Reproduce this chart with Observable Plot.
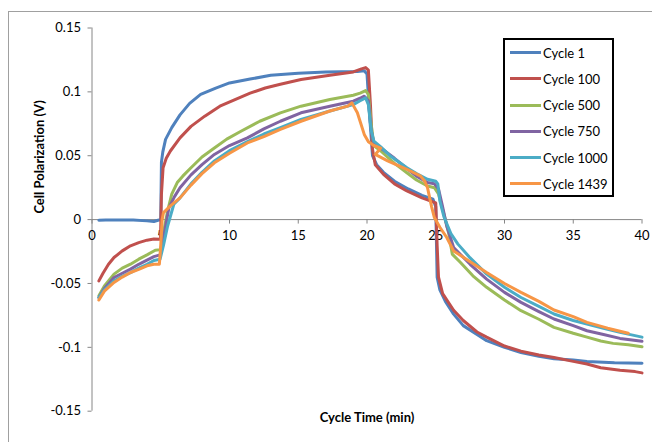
<!DOCTYPE html>
<html>
<head>
<meta charset="utf-8">
<script src="https://cdn.jsdelivr.net/npm/d3@7"></script>
<script src="https://cdn.jsdelivr.net/npm/@observablehq/plot@0.6"></script>
<style>
  html, body { margin: 0; padding: 0; background: #fff; }
  #wrap { position: relative; width: 652px; height: 442px; overflow: hidden; font-family: Lato, "Open Sans", sans-serif; }
  #frame { position: absolute; left: 8px; top: 11px; width: 700px; height: 500px; border-top: 1px solid #a0a0a0; border-left: 1px solid #a0a0a0; }
  #chart { position: absolute; left: 0; top: 0; }
  #legend { position: absolute; left: 503px; top: 38px; width: 107px; height: 155px; border: 2px solid #000; background: #fff; }
  .row { position: absolute; left: 5px; height: 20px; display: flex; align-items: center; font-size: 13px; color: #000; white-space: nowrap; }
  .sw { width: 31px; height: 3px; margin-right: 2px; }
</style>
</head>
<body>
<div id="wrap">
  <div id="frame"></div>
  <div id="chart"></div>
  <div id="legend"></div>
</div>
<script>
// ---- data ----
const seriesNames = ["Cycle 1", "Cycle 100", "Cycle 500", "Cycle 750", "Cycle 1000", "Cycle 1439"];
const seriesColors = ["#4F81BD", "#C0504D", "#9BBB59", "#8064A2", "#4BACC6", "#F79646"];
const xTicks = [0, 5, 10, 15, 20, 25, 30, 35, 40];
const yTicks = [-0.15, -0.1, -0.05, 0, 0.05, 0.1, 0.15];

const cycle1 = [[0.5,-0.0005],[1,-0.0004],[2,-0.0003],[3,-0.0004],[4,-0.001],[4.5,-0.0015],[4.8,-0.0005],[5.0,0],[5.05,0.045],[5.15,0.053],[5.35,0.0628],[5.8,0.072],[6.4,0.082],[7.1,0.091],[7.9,0.098],[9,0.103],[10,0.107],[11.5,0.110],[13,0.113],[15,0.1146],[17,0.1155],[19.3,0.116],[19.8,0.1165],[20.0,0.114],[20.2,0.08],[20.4,0.05],[20.7,0.043],[21.2,0.037],[22,0.030],[23,0.024],[24,0.019],[24.8,0.016],[25.0,0.010],[25.1,-0.045],[25.3,-0.055],[25.7,-0.064],[26.3,-0.074],[27,-0.083],[28,-0.090],[28.7,-0.0948],[30,-0.1],[31.2,-0.104],[32.5,-0.107],[33.6,-0.109],[35,-0.110],[36,-0.111],[38,-0.112],[40,-0.1125]];
const cycle100 = [[0.5,-0.048],[0.8,-0.042],[1.2,-0.035],[1.6,-0.0297],[2.2,-0.0245],[2.8,-0.0205],[3.4,-0.018],[4.0,-0.0161],[4.5,-0.0152],[4.98,-0.0153],[5.05,0.02],[5.17,0.0406],[5.4,0.048],[5.7,0.0537],[6.4,0.064],[7.2,0.073],[8.2,0.081],[9.3,0.0888],[10.4,0.094],[11.5,0.099],[12.6,0.103],[13.7,0.106],[15.2,0.1097],[17.3,0.113],[19,0.1156],[19.6,0.118],[19.9,0.119],[20.1,0.117],[20.25,0.09],[20.4,0.055],[20.6,0.043],[21.2,0.0355],[22,0.028],[22.9,0.0224],[24,0.017],[24.6,0.0146],[25.0,0.013],[25.1,-0.02],[25.2,-0.045],[25.5,-0.058],[26.3,-0.071],[27,-0.079],[28,-0.088],[28.7,-0.092],[30,-0.099],[31.2,-0.103],[32.5,-0.106],[33.6,-0.108],[35,-0.111],[36,-0.113],[37,-0.116],[38.4,-0.118],[39.5,-0.119],[40,-0.120]];
const cycle500 = [[0.5,-0.0596],[0.9,-0.052],[1.6,-0.0427],[2.2,-0.038],[2.8,-0.0349],[3.4,-0.031],[4.0,-0.0276],[4.6,-0.024],[5.0,-0.0235],[5.2,-0.01],[5.5,0.0068],[5.8,0.02],[6.2,0.029],[6.6,0.034],[7.2,0.0406],[8,0.049],[8.9,0.056],[9.8,0.063],[10.8,0.069],[12.2,0.077],[13.7,0.0836],[15.2,0.0888],[17.3,0.094],[19,0.0974],[19.5,0.099],[19.9,0.101],[20.1,0.098],[20.3,0.075],[20.5,0.058],[21,0.0537],[22,0.044],[22.9,0.0367],[23.6,0.031],[24.4,0.0263],[24.9,0.025],[25.2,0.02],[25.6,0.004],[25.95,-0.011],[26.2,-0.027],[26.8,-0.0336],[27.7,-0.044],[28.7,-0.053],[30,-0.063],[31.2,-0.0713],[32.5,-0.078],[33.6,-0.0844],[35,-0.089],[36,-0.092],[37,-0.095],[37.9,-0.0969],[39,-0.098],[40,-0.0995]];
const cycle750 = [[0.5,-0.061],[0.9,-0.054],[1.6,-0.0453],[2.2,-0.042],[2.8,-0.0388],[3.4,-0.035],[4.0,-0.0317],[4.5,-0.029],[4.95,-0.0276],[5.2,-0.015],[5.4,-0.002],[5.6,0.0094],[6.0,0.018],[6.4,0.025],[7.2,0.035],[8,0.043],[8.9,0.051],[10,0.058],[11.3,0.064],[12.5,0.071],[13.7,0.077],[15.2,0.0836],[17.3,0.0888],[19,0.0927],[19.5,0.095],[19.8,0.0966],[20.1,0.093],[20.3,0.07],[20.5,0.06],[21,0.056],[22,0.048],[22.9,0.040],[23.6,0.034],[24.4,0.029],[24.9,0.028],[25.2,0.024],[25.5,0.01],[25.8,-0.005],[26.3,-0.0219],[27.5,-0.035],[28.7,-0.0466],[30,-0.057],[31.2,-0.0648],[32.5,-0.072],[33.6,-0.0778],[35,-0.083],[36,-0.087],[37.2,-0.090],[38.4,-0.093],[40,-0.0953]];
const cycle1000 = [[0.5,-0.061],[0.9,-0.055],[1.6,-0.048],[2.2,-0.0445],[2.8,-0.0415],[3.4,-0.038],[4.0,-0.035],[4.5,-0.032],[4.95,-0.031],[5.2,-0.02],[5.5,-0.005],[5.95,0.012],[6.4,0.017],[7.2,0.028],[8,0.037],[8.9,0.0459],[10,0.054],[11.3,0.061],[12.5,0.067],[13.7,0.0719],[15.2,0.0784],[17.3,0.085],[19,0.090],[19.5,0.093],[19.9,0.0953],[20.1,0.09],[20.3,0.07],[20.5,0.0615],[21,0.057],[21.7,0.0498],[22.9,0.0406],[23.6,0.036],[24.4,0.0316],[25.0,0.030],[25.15,0.028],[25.3,0.0146],[25.6,0.002],[26.1,-0.011],[26.6,-0.019],[27.5,-0.030],[28.7,-0.0427],[30,-0.053],[31.2,-0.061],[32.5,-0.068],[33.6,-0.0739],[35,-0.079],[36,-0.0817],[37.2,-0.085],[38.4,-0.0883],[40,-0.092]];
const cycle1439 = [[0.5,-0.063],[0.9,-0.056],[1.6,-0.0492],[2.2,-0.045],[2.8,-0.0414],[3.4,-0.039],[4.0,-0.0362],[4.5,-0.035],[4.9,-0.0349],[5.0,-0.02],[5.1,0.0],[5.2,0.0055],[5.7,0.0107],[6.4,0.017],[7.2,0.027],[8,0.036],[8.9,0.0445],[10,0.052],[11.3,0.060],[12.5,0.065],[13.7,0.0706],[15.2,0.077],[17.3,0.085],[18.6,0.0888],[18.9,0.0914],[19.3,0.0836],[19.8,0.0667],[20.1,0.061],[20.5,0.058],[21,0.056],[20.6,0.051],[21.5,0.046],[22.9,0.0394],[23.9,0.034],[24.2,0.030],[24.4,0.025],[24.7,0.01],[24.9,0.0016],[25.3,-0.006],[25.8,-0.014],[26.3,-0.0245],[27.5,-0.033],[28.7,-0.0414],[30,-0.05],[31.2,-0.057],[32.5,-0.064],[33.6,-0.0708],[35,-0.076],[36,-0.0805],[37.5,-0.085],[39.0,-0.089]];

const seriesData = [cycle1, cycle100, cycle500, cycle750, cycle1000, cycle1439];

// ---- table for Plot ----
const rows = [];
seriesData.forEach((arr, i) => arr.forEach(([t, v]) => rows.push({cycle: seriesNames[i], t, v})));

const chart = Plot.plot({
  width: 652,
  height: 442,
  marginLeft: 91.5,
  marginRight: 10.5,
  marginTop: 27.5,
  marginBottom: 31.3,
  style: {fontFamily: "Lato, 'Open Sans', sans-serif", fontSize: "13px", background: "transparent", color: "#000"},
  x: {domain: [0, 40], axis: null},
  y: {domain: [-0.15, 0.15], axis: null},
  color: {domain: seriesNames, range: seriesColors},
  marks: [
    Plot.ruleX([0], {stroke: "#868686", strokeWidth: 1}),
    Plot.ruleY([0], {stroke: "#868686", strokeWidth: 1}),
    Plot.axisY({ticks: yTicks, tickSize: 4, tickPadding: 7, tickFormat: d => String(d), label: null, stroke: "#868686", fill: "#000", fontSize: 13}),
    Plot.ruleX(xTicks, {x: d => d, y1: 0, y2: -0.0035, stroke: "#868686"}),
    Plot.text(xTicks, {x: d => d, y: 0, dy: 11, text: d => String(d), lineAnchor: "top", fill: "#000", fontSize: 13}),
    Plot.line(rows, {x: "t", y: "v", z: "cycle", stroke: "cycle", strokeWidth: 3, strokeLinejoin: "round", strokeLinecap: "round"}),
    Plot.text(["Cycle Time (min)"], {frameAnchor: "bottom", dy: 10.5, text: d => d, fontWeight: "bold", fontSize: 13, fill: "#000"}),
    Plot.text(["Cell Polarization (V)"], {frameAnchor: "left", dx: -52.5, dy: -6, rotate: -90, text: d => d, fontWeight: "bold", fontSize: 13, fill: "#000"})
  ]
});
document.getElementById("chart").appendChild(chart);

// ---- legend ----
const legend = document.getElementById("legend");
seriesNames.forEach((name, i) => {
  const row = document.createElement("div");
  row.className = "row";
  row.style.top = (2.7 + 26.2 * i) + "px";
  const sw = document.createElement("div");
  sw.className = "sw";
  sw.style.background = seriesColors[i];
  row.appendChild(sw);
  const tx = document.createElement("span");
  tx.textContent = name;
  row.appendChild(tx);
  legend.appendChild(row);
});
</script>
</body>
</html>
